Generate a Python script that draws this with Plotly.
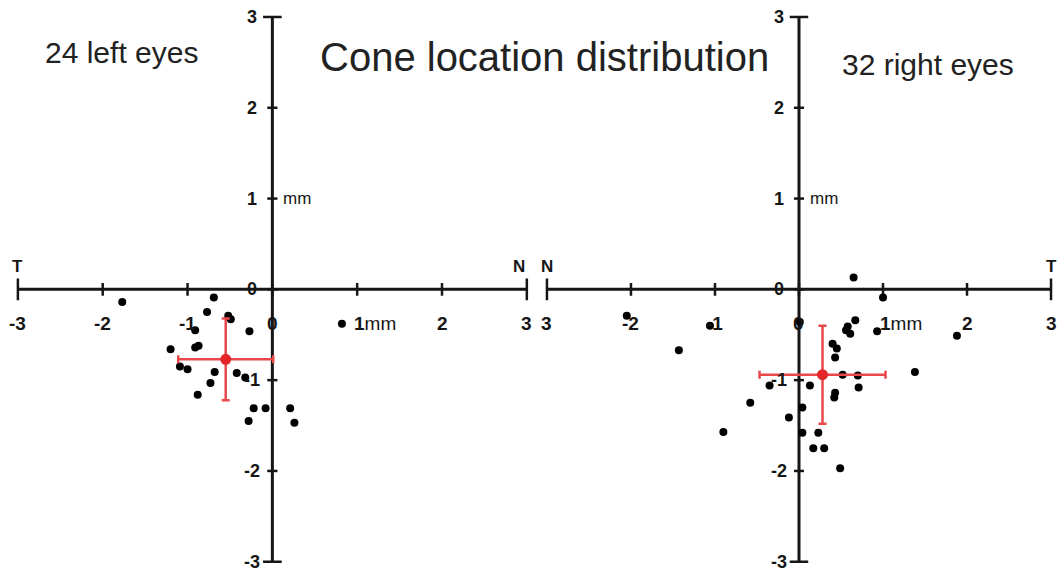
import plotly.graph_objects as go

# Tick positions (mm) and their printed labels
TICKS = [-3, -2, -1, 0, 1, 2, 3]
LEFT_X_LABELS = ["-3", "-2", "-1", "0", "1mm", "2", "3"]
RIGHT_X_LABELS = ["3", "-2", "-1", "0", "1mm", "2", "3"]
Y_LABELS = ["-3", "-2", "-1", "0", "1", "2", "3"]

# Cone locations, left eyes (mm; x: temporal < 0 < nasal)
left_x = [-1.77, -0.69, -0.77, -0.52, -0.49, -0.91, -0.27, -1.20, -0.91, -0.87, -1.09, -1.00,
          -0.68, -0.42, -0.32, -0.73, -0.88, -0.22, -0.08, 0.21, -0.28, 0.26, 0.82]
left_y = [-0.14, -0.09, -0.25, -0.29, -0.33, -0.45, -0.46, -0.66, -0.64, -0.62, -0.85, -0.88,
          -0.91, -0.92, -0.97, -1.03, -1.16, -1.31, -1.31, -1.31, -1.45, -1.47, -0.38]

# Cone locations, right eyes
right_x = [0.65, 1.00, 0.67, 0.56, 0.61, 0.93, 0.40, 0.45, 0.43, -1.43, 0.52, 0.70, 0.71, 1.38,
           -0.35, 0.13, 0.43, 0.42, -0.58, 0.04, -0.12, -0.90, 0.04, 0.23, 0.17, 0.30, 0.49,
           1.88, -2.05, -1.06, 0.58, 0.01]
right_y = [0.13, -0.09, -0.34, -0.45, -0.49, -0.46, -0.60, -0.65, -0.75, -0.67, -0.94, -0.95,
           -1.08, -0.91, -1.06, -1.06, -1.14, -1.19, -1.25, -1.30, -1.41, -1.57, -1.58, -1.58,
           -1.75, -1.75, -1.97, -0.51, -0.29, -0.40, -0.41, -0.36]

# Mean location and standard deviation per group
left_mean = [-0.55, -0.77]
left_sd = [0.56, 0.45]
right_mean = [0.28, -0.94]
right_sd = [0.75, 0.54]

INK = "#161616"
RED = "#e3262a"
BAR = "#e8484a"
FONT = "Liberation Sans, Arial, sans-serif"

fig = go.Figure()

panels = [
    ("x", "y", left_x, left_y, left_mean, left_sd, LEFT_X_LABELS),
    ("x2", "y2", right_x, right_y, right_mean, right_sd, RIGHT_X_LABELS),
]

shapes = []
annotations = []

for xa, ya, px, py, mean, sd, xlabels in panels:
    # individual eyes
    fig.add_trace(go.Scatter(
        x=px, y=py, mode="markers", xaxis=xa, yaxis=ya,
        marker=dict(size=8, color="#000000"), showlegend=False, hoverinfo="x+y"))
    # group mean with SD bars
    fig.add_trace(go.Scatter(
        x=[mean[0]], y=[mean[1]], mode="markers", xaxis=xa, yaxis=ya,
        marker=dict(size=11, color=RED),
        error_x=dict(type="data", array=[sd[0]], color=BAR, thickness=2.5, width=4),
        error_y=dict(type="data", array=[sd[1]], color=BAR, thickness=2.5, width=4),
        showlegend=False))

    # cross-shaped axes
    line = dict(color=INK, width=3)
    shapes.append(dict(type="line", xref=xa, yref=ya, x0=TICKS[0], x1=TICKS[-1], y0=0, y1=0, line=line, layer="below"))
    shapes.append(dict(type="line", xref=xa, yref=ya, x0=0, x1=0, y0=TICKS[0], y1=TICKS[-1], line=line, layer="below"))
    for t in TICKS:
        end = t in (TICKS[0], TICKS[-1])
        hx = 0.11 if end else 0.06
        hy = 0.12 if end else 0.07
        shapes.append(dict(type="line", xref=xa, yref=ya, x0=t, x1=t, y0=-hy, y1=hy,
                           line=dict(color=INK, width=2.5), layer="below"))
        shapes.append(dict(type="line", xref=xa, yref=ya, x0=-hx, x1=hx, y0=t, y1=t,
                           line=dict(color=INK, width=2.5), layer="below"))

    for t, lab in zip(TICKS, xlabels):
        if lab.endswith("mm"):
            annotations.append(dict(x=t, y=0, xref=xa, yref=ya, text="<b>1</b>mm", showarrow=False,
                                    xanchor="left", yanchor="middle", xshift=-5, yshift=-34,
                                    font=dict(family=FONT, size=19, color=INK)))
        else:
            annotations.append(dict(x=t, y=0, xref=xa, yref=ya, text="<b>%s</b>" % lab, showarrow=False,
                                    xanchor="center", yanchor="middle", yshift=-34,
                                    font=dict(family=FONT, size=19, color=INK)))
    for t, lab in zip(TICKS, Y_LABELS):
        annotations.append(dict(x=0, y=t, xref=xa, yref=ya, text="<b>%s</b>" % lab, showarrow=False,
                                xanchor="center", yanchor="middle", xshift=-20,
                                font=dict(family=FONT, size=18, color=INK)))
    annotations.append(dict(x=0, y=1, xref=xa, yref=ya, text="mm", showarrow=False,
                            xanchor="left", yanchor="middle", xshift=9,
                            font=dict(family=FONT, size=17, color=INK)))

# side labels: temporal / nasal
side = [("x", -3, "T", 0), ("x", 3, "N", -8), ("x2", -3, "N", 0), ("x2", 3, "T", 0)]
for xa, xv, lab, dx in side:
    annotations.append(dict(x=xv, y=0, xref=xa, yref="y" if xa == "x" else "y2", text="<b>%s</b>" % lab,
                            showarrow=False, xanchor="center", yanchor="middle", xshift=dx, yshift=23,
                            font=dict(family=FONT, size=17, color=INK)))

annotations += [
    dict(x=0.115, y=0.908, xref="paper", yref="paper", text="24 left eyes", showarrow=False,
         xanchor="center", yanchor="middle", font=dict(family=FONT, size=30, color="#222")),
    dict(x=0.515, y=0.90, xref="paper", yref="paper", text="Cone location distribution", showarrow=False,
         xanchor="center", yanchor="middle", font=dict(family=FONT, size=40, color="#222")),
    dict(x=0.877, y=0.888, xref="paper", yref="paper", text="32 right eyes", showarrow=False,
         xanchor="center", yanchor="middle", font=dict(family=FONT, size=30, color="#222")),
]

axis_common = dict(visible=False, showgrid=False, zeroline=False, fixedrange=True)
fig.update_layout(
    width=1058, height=574,
    margin=dict(l=0, r=0, t=0, b=0),
    paper_bgcolor="white", plot_bgcolor="white",
    xaxis=dict(domain=[0, 0.505], range=[-3.211, 3.088], **axis_common),
    xaxis2=dict(domain=[0.508, 1], range=[-3.113, 3.083], anchor="y2", **axis_common),
    yaxis=dict(domain=[0, 1], range=[-3.135, 3.187], anchor="x", **axis_common),
    yaxis2=dict(domain=[0, 1], range=[-3.135, 3.187], anchor="x2", **axis_common),
    shapes=shapes,
    annotations=annotations,
)

fig.write_html("out.html")
